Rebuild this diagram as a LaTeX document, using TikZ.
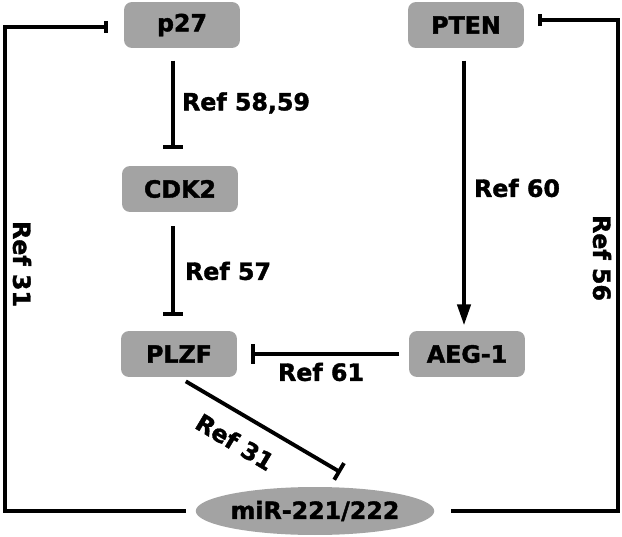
\documentclass[tikz,border=0pt]{standalone}
\usepackage{fontspec}
\newfontface\heavyfont{DejaVu Sans Bold}[FakeBold=1.6]
\usetikzlibrary{arrows.meta,calc,shapes.geometric}
\definecolor{boxgray}{RGB}{163,163,163}
\tikzset{
	gene/.style={rectangle, rounded corners=0.16cm, fill=boxgray, minimum width=2.32cm, minimum height=0.92cm, font=\heavyfont\fontsize{13.5}{15}\selectfont},
	mirna/.style={ellipse, fill=boxgray, minimum width=4.02cm, minimum height=0.96cm, inner sep=0pt, font=\heavyfont\fontsize{13.5}{15}\selectfont},
	reflab/.style={inner sep=0pt, font=\heavyfont\fontsize{13.5}{15}\selectfont},
	inhib/.style={line width=2.2pt, -{Bar[width=11pt,line width=2.2pt]}},
	loopinhib/.style={line width=2.2pt, -{Bar[width=7pt,line width=2.2pt]}},
	activ/.style={line width=2.2pt, -{Triangle[length=12pt,width=7.5pt]}}
}

\begin{document}
\begin{tikzpicture}[x=0.02cm, y=-0.02cm]
			%%%%% START %%%%%
			\useasboundingbox (0, 0) rectangle (622, 537);
			
			\node[gene] (p27) at (182, 25) {p27};
			\node[gene] (pten) at (466, 25) {PTEN};
			\node[gene] (cdk) at (180, 189) {CDK2};
			\node[gene] (plzf) at (179, 354) {PLZF};
			\node[gene] (aeg) at (467, 354) {AEG-1};
			\node[mirna] (mir) at (315, 511) {miR-221/222};
			
			\coordinate (lbot) at (5, 511);
			\coordinate (ltop) at (5, 27);
			\coordinate (rbot) at (618, 511);
			\coordinate (rtop) at (618, 20);
			
			% vertical chains
			\draw[inhib, shorten <=7pt, shorten >=9.5pt] ($(p27.south)+(-9, 0)$) -- ($(cdk.north)+(-7, 0)$);
			\draw[inhib, shorten <=8pt, shorten >=9.5pt] ($(cdk.south)+(-7, 0)$) -- ($(plzf.south)+(-6, -45)$);
			\draw[activ, shorten <=7pt, shorten >=3pt] ($(pten.south)+(-2, 0)$) -- ($(aeg.north)+(-3, 0)$);
			
			% AEG-1 and PLZF
			\draw[inhib, shorten <=5.5pt, shorten >=8pt] (aeg.west) -- (aeg.west -| plzf.east);
			\draw[inhib, shorten <=4.5pt, shorten >=16pt] (plzf.south) -- ($(mir.north)+(50, 0)$);
			
			% feedback loops
			\draw[loopinhib, shorten <=5.5pt, shorten >=9pt] (mir.west) -- (lbot) -- (ltop) -- (p27.west |- ltop);
			\draw[loopinhib, shorten <=9.5pt, shorten >=8pt] (mir.east) -- (rbot) -- (rtop) -- (pten.east |- rtop);
			
			\node[reflab] (r5859) at (246, 103) {Ref 58,59};
			\node[reflab] (r57) at (228, 271) {Ref 57};
			\node[reflab] (r60) at (517, 188) {Ref 60};
			\node[reflab] (r61) at (321, 372) {Ref 61};
			\node[reflab, rotate=-31] (r31d) at (235, 442) {Ref 31};
			\node[reflab, rotate=-90] (r31l) at (22, 264) {Ref 31};
			\node[reflab, rotate=-90] (r56) at (602, 258) {Ref 56};
			
			%%%%% END %%%%%
		\end{tikzpicture}
\end{document}
